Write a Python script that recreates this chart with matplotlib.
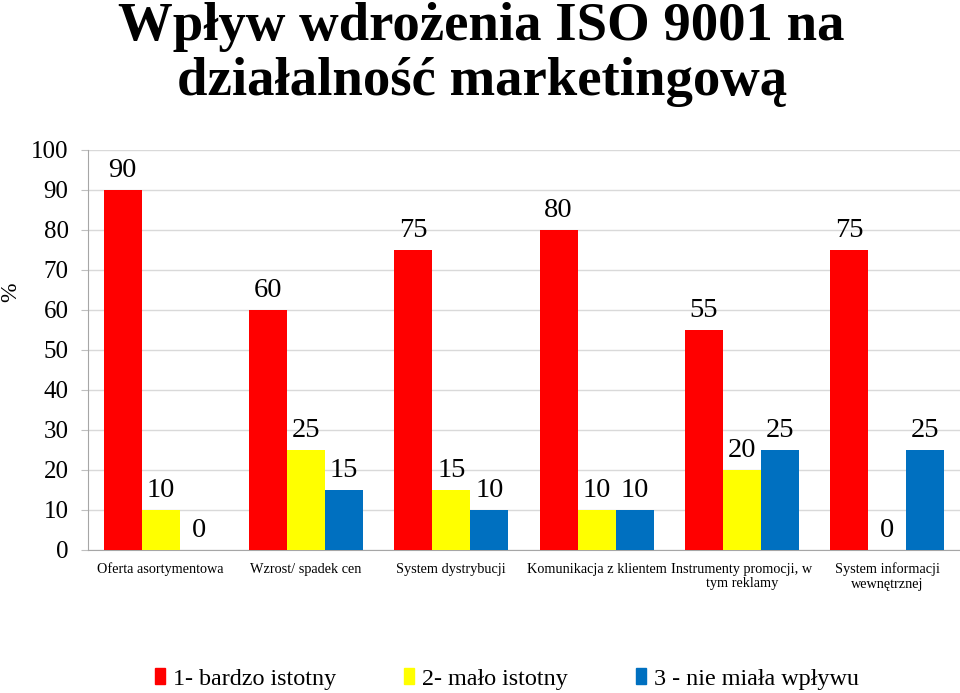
import matplotlib.pyplot as plt
import numpy as np
from matplotlib.patches import Patch

categories = ["Oferta asortymentowa", "Wzrost/ spadek cen", "System dystrybucji",
              "Komunikacja z klientem", "Instrumenty promocji, w\ntym reklamy",
              "System informacji\nwewnętrznej"]
series_names = ["1- bardzo istotny", "2- mało istotny", "3 - nie miała wpływu"]
s1 = [90, 60, 75, 80, 55, 75]
s2 = [10, 25, 15, 10, 20, 0]
s3 = [0, 15, 10, 10, 25, 25]
colors = ["#FF0000", "#FFFF00", "#0070C0"]
yticks = list(range(0, 101, 10))

plt.rcParams['font.family'] = ['Liberation Serif', 'DejaVu Serif']

fig = plt.figure(figsize=(9.6, 6.93), dpi=100)
ax = fig.add_axes([88/960, 1-550/693, (960-88)/960, 400/693])

x = np.arange(len(categories))
w = 0.262
for i, (vals, c) in enumerate(zip([s1, s2, s3], colors)):
    pos = x + (i - 1) * w
    ax.bar(pos, vals, width=w, color=c, zorder=3)
    for p, v in zip(pos, vals):
        ax.text(p, v + 1.8, str(v), ha='center', va='bottom', fontsize=20.5, zorder=4)

ax.set_xlim(-0.5, len(categories) - 0.5)
ax.set_ylim(0, 100)
ax.set_yticks(yticks)
ax.set_yticklabels([str(t) for t in yticks], fontsize=18)
ax.set_xticks(x)
ax.set_xticklabels(categories, fontsize=10.3)
ax.tick_params(axis='x', length=0, pad=9)
ax.tick_params(axis='y', length=5, color='#BFBFBF', pad=9)
ax.yaxis.grid(True, color='#D9D9D9', linewidth=1, zorder=0)
for s in ['top', 'right']:
    ax.spines[s].set_visible(False)
for s in ['left', 'bottom']:
    ax.spines[s].set_color('#A6A6A6')

fig.text(11/960, 1-292/693, "%", rotation=90, ha='center', va='center', fontsize=17)
fig.text(481/960, 1-40/693, "Wpływ wdrożenia ISO 9001 na", ha='center', va='baseline',
         fontsize=39.4, fontweight='bold')
fig.text(482/960, 1-95/693, "działalność marketingową", ha='center', va='baseline',
         fontsize=39.4, fontweight='bold')

handles = [Patch(color=c) for c in colors]
fig.legend(handles, series_names, loc='center', bbox_to_anchor=(507/960, 1-679/693),
           ncol=3, frameon=False, fontsize=17.4, handlelength=0.42, handleheight=0.6,
           handletextpad=0.33, columnspacing=2.8)

fig.savefig("out.png", dpi=100)
